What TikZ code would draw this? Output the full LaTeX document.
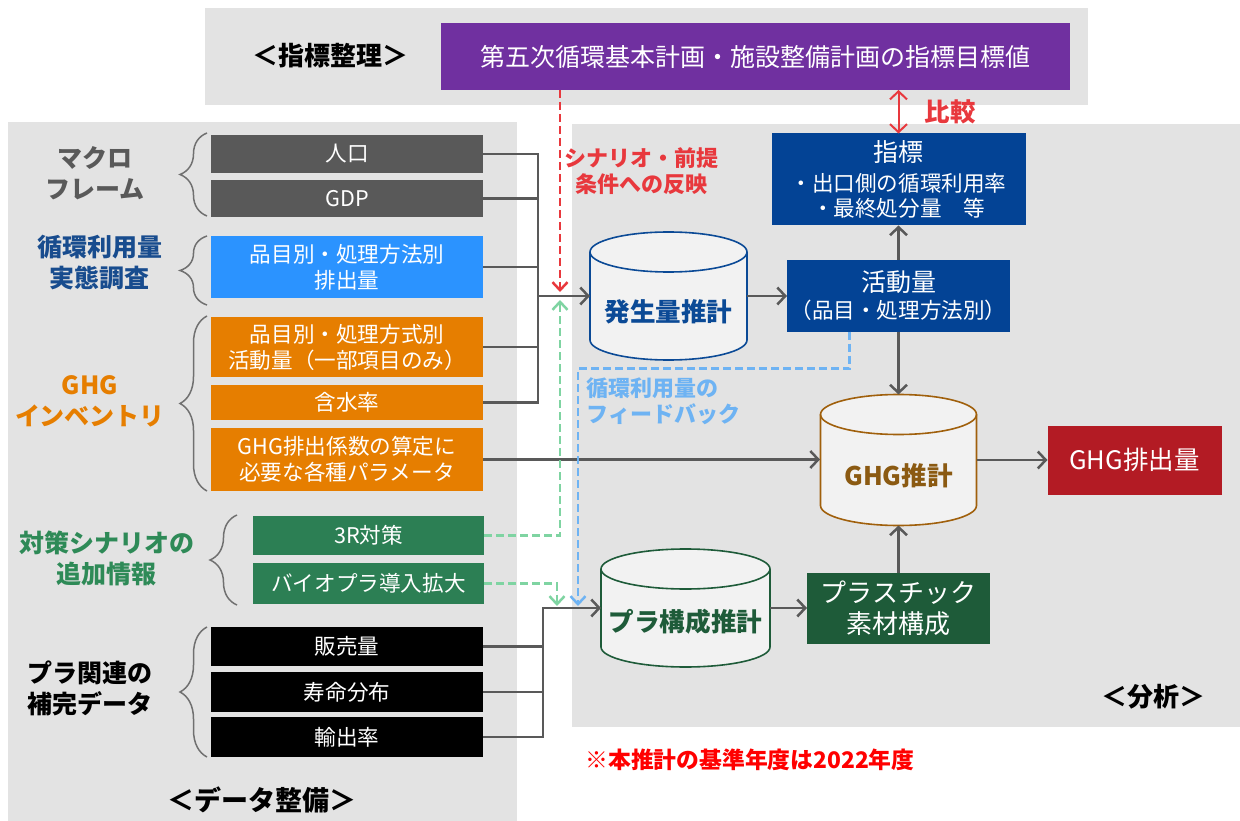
\documentclass[tikz,border=0pt]{standalone}
\usepackage{fontspec}
\setmainfont{Noto Sans CJK JP}
\usepackage{tikz}
\usetikzlibrary{arrows.meta}
\usetikzlibrary{decorations.pathreplacing}
\usetikzlibrary{positioning}

\definecolor{panelgray}{HTML}{E3E3E3}
\definecolor{linegray}{HTML}{595959}
\definecolor{bracegray}{HTML}{707070}
\definecolor{macgray}{HTML}{595959}
\definecolor{surveyblue}{HTML}{2B93FF}
\definecolor{labelblue}{HTML}{184C8E}
\definecolor{invorange}{HTML}{E67E00}
\definecolor{scengreen}{HTML}{2C7F54}
\definecolor{labelgreen}{HTML}{2E8A57}
\definecolor{planpurple}{HTML}{7030A0}
\definecolor{navy}{HTML}{034395}
\definecolor{drumnavy}{HTML}{0B4A96}
\definecolor{ghgbrown}{HTML}{A0600C}
\definecolor{ghgbrowntext}{HTML}{8B5A12}
\definecolor{darkgreen}{HTML}{1E5B39}
\definecolor{ghgred}{HTML}{B31B24}
\definecolor{notered}{HTML}{E8383D}
\definecolor{feedgreen}{HTML}{7FD4A2}
\definecolor{feedblue}{HTML}{6EB3F3}
\definecolor{drumfill}{HTML}{F2F2F2}

%% drum outline round an (invisible) node: name, colour, half width
\newcommand{\drawdrum}[3]{%
  \draw[line width=1.6pt,draw=#2,fill=drumfill]
    ([yshift=-20pt]#1.north west) -- ([yshift=20pt]#1.south west)
    arc[start angle=180,end angle=360,x radius=#3pt,y radius=20pt]
    -- ([yshift=-20pt]#1.north east)
    arc[start angle=0,end angle=180,x radius=#3pt,y radius=20pt] -- cycle;
  \draw[line width=1.6pt,draw=#2]
    ([yshift=-20pt]#1.north east)
    arc[start angle=0,end angle=-180,x radius=#3pt,y radius=20pt];}

\begin{document}
\begin{tikzpicture}
[x=1pt,y=-1pt,>={Straight Barb[length=8pt,width=17pt]},%
  databox/.style={inner sep=0pt,outer sep=0pt,minimum width=272pt,text=white,
    align=center,font=\fontsize{21.6}{26}\selectfont},
  mainbox/.style={inner sep=0pt,outer sep=0pt,text=white,align=center},
  drumbox/.style={inner sep=0pt,outer sep=0pt},
  drumtext/.style={font=\fontsize{25.6}{30}\selectfont\bfseries},
  groupname/.style={align=center,font=\fontsize{25}{31}\selectfont\bfseries},
  heading/.style={font=\fontsize{26}{30}\selectfont\bfseries},
  remark/.style={align=center,font=\fontsize{22}{26}\selectfont\bfseries},
  brace/.style={decorate,decoration={brace,amplitude=27pt},draw=bracegray,line width=1.5pt},
  conn/.style={draw=linegray,line width=2.5pt},
  dashconn/.style={line width=2.5pt,dash pattern=on 8pt off 4pt,
    >={Straight Barb[length=8pt,width=15pt]}}]
%% panels
\useasboundingbox (0,0) rectangle (1240,821);
\fill[panelgray] (205,8) rectangle (1088,105);
\fill[panelgray] (8,122) rectangle (517,821);
\fill[panelgray] (572,124) rectangle (1240,727);
%% headings
\node[heading] (hidx) at (330,56) {＜指標整理＞};
\node[heading,font=\fontsize{27}{30}\selectfont\bfseries] (hdata) at (262,800) {＜データ整備＞};
\node[heading] (hana) at (1153,697) {＜分析＞};
%% group names and braces
\node[groupname,text=macgray] (gmac) at (95,173) {マクロ\\フレーム};
\node[groupname,text=labelblue] (gsur) at (100,263) {循環利用量\\実態調査};
\node[groupname,text=invorange] (ginv) at (90,401) {GHG\\インベントリ};
\node[groupname,text=labelgreen] (gsce) at (107,558) {対策シナリオの\\追加情報};
\node[groupname] (gpla) at (90,688) {プラ関連の\\補完データ};
\draw[brace] (207,216) -- (207,133);
\draw[brace] (207,305) -- (207,236);
\draw[brace] (207,491) -- (207,316);
\draw[brace] (237,605) -- (237,515);
\draw[brace] (207,757) -- (207,627);
%% data boxes
\node[databox,fill=macgray,minimum height=38pt] (pop) at (347,154) {人口};
\node[databox,fill=macgray,minimum height=37pt] (gdp) [below=7pt of pop] {GDP};
\node[databox,fill=surveyblue,minimum height=62pt] (emis) [below=19pt of gdp] {品目別・処理方法別\\排出量};
\node[databox,fill=invorange,minimum height=60pt] (actin) [below=19pt of emis] {品目別・処理方式別\\活動量（一部項目のみ）};
\node[databox,fill=invorange,minimum height=35pt] (water) [below=8pt of actin] {含水率};
\node[databox,fill=invorange,minimum height=63pt] (param) [below=8pt of water] {GHG排出係数の算定に\\必要な各種パラメータ};
\node[databox,fill=scengreen,minimum width=231pt,minimum height=39pt] (r3) at (368.5,535.5) {3R対策};
\node[databox,fill=scengreen,minimum width=231pt,minimum height=41pt] (bio) [below=8pt of r3] {バイオプラ導入拡大};
\node[databox,fill=black,minimum height=39pt] (sales) at (347,646.5) {販売量};
\node[databox,fill=black,minimum height=40pt] (life) [below=6pt of sales] {寿命分布};
\node[databox,fill=black,minimum height=40pt] (export) [below=5pt of life] {輸出率};
%% analysis
\node[mainbox,fill=planpurple,minimum width=629pt,minimum height=67pt,
  font=\fontsize{25}{30}\selectfont] (target) at (755.5,56.5) {第五次循環基本計画・施設整備計画の指標目標値};
\node[drumbox,minimum width=157pt,minimum height=128pt] (gen) at (668.5,296) {};
\node[mainbox,fill=navy,minimum width=223pt,minimum height=71pt,font=\fontsize{21.6}{27}\selectfont]
  (actv) [right=40pt of gen] {{\fontsize{25}{27}\selectfont 活動量}\\（品目・処理方法別）};
\node[mainbox,fill=navy,minimum width=254pt,minimum height=92pt,font=\fontsize{21.6}{25}\selectfont]
  (index) [above=35pt of actv] {{\fontsize{25}{25}\selectfont 指標}\\[5pt]・出口側の循環利用率\\・最終処分量　等};
\node[drumbox,minimum width=156pt,minimum height=131pt] (ghg) [below=63pt of actv] {};
\node[mainbox,fill=ghgred,minimum width=174pt,minimum height=69pt,font=\fontsize{25.5}{30}\selectfont]
  (ghgout) [right=71pt of ghg] {GHG排出量};
\node[mainbox,fill=darkgreen,minimum width=183pt,minimum height=71pt,font=\fontsize{26}{31}\selectfont]
  (mat) [below=47pt of ghg] {プラスチック\\素材構成};
\node[drumbox,minimum width=169pt,minimum height=118pt] (pla) [left=37pt of mat] {};
\drawdrum{gen}{drumnavy}{78.5}
\drawdrum{ghg}{ghgbrown}{78}
\drawdrum{pla}{darkgreen}{84.5}
\node[drumtext,text=drumnavy] (gentext) at ([yshift=-16pt]gen.center) {発生量推計};
\node[drumtext,text=ghgbrowntext] (ghgtext) at ([yshift=-16pt]ghg.center) {GHG推計};
\node[drumtext,text=darkgreen] (platext) at ([yshift=-14pt]pla.center) {プラ構成推計};
%% remarks
\node[remark,text=notered] (rscen) at (641,171) {シナリオ・前提\\条件への反映};
\node[remark,text=feedblue,align=left,anchor=west] (rfeed) at (583,401) {循環利用量の\\フィードバック};
\node[remark,text=notered,font=\fontsize{25.5}{30}\selectfont\bfseries] (rcomp) at (950,112) {比較};
\node[remark,text=red,font=\fontsize{22.8}{26}\selectfont\bfseries] (rnote) at (750,760) {※本推計の基準年度は2022年度};
%% junctions
\coordinate (busA) at (538,296);
\coordinate (busB) at (543,608);
\coordinate (paramend) at (820,459.5);
\coordinate (scentip) at (560,292);
\coordinate (r3tip) at (560,300);
\coordinate (biotip) at (557,606);
\coordinate (feedtip) at (578,606);
%% connectors
\draw[conn] (pop.east) -| (busA);
\draw[conn] (gdp.east) -| (busA);
\draw[conn] (emis.east) -| (busA);
\draw[conn] (actin.east) -| (busA);
\draw[conn,->] (water.east) -| (busA) -- (gen.west);
\draw[conn] (sales.east) -| (busB);
\draw[conn] (life.east) -| (busB);
\draw[conn,->] (export.east) -| (busB) -- (pla.west);
\draw[conn,->] (param.east) -- (paramend);
\path[->,conn]
(gen) edge (actv)
(actv) edge (index)
(actv) edge (ghg)
(pla) edge (mat)
(mat) edge (ghg)
(ghg) edge (ghgout);
\draw[<->,draw=notered,line width=2pt] (target.south -| index.north) -- (index.north);
\draw[->,dashconn,draw=notered] (target.south -| scentip) -- (scentip);
\draw[->,dashconn,draw=feedgreen] (r3.east) -| (r3tip);
\draw[->,dashconn,draw=feedgreen] (bio.east) -| (biotip);
\draw[->,dashconn,draw=feedblue] ([xshift=-49pt]actv.south) -- ++(0,37) -| (feedtip);
\end{tikzpicture}
\end{document}
